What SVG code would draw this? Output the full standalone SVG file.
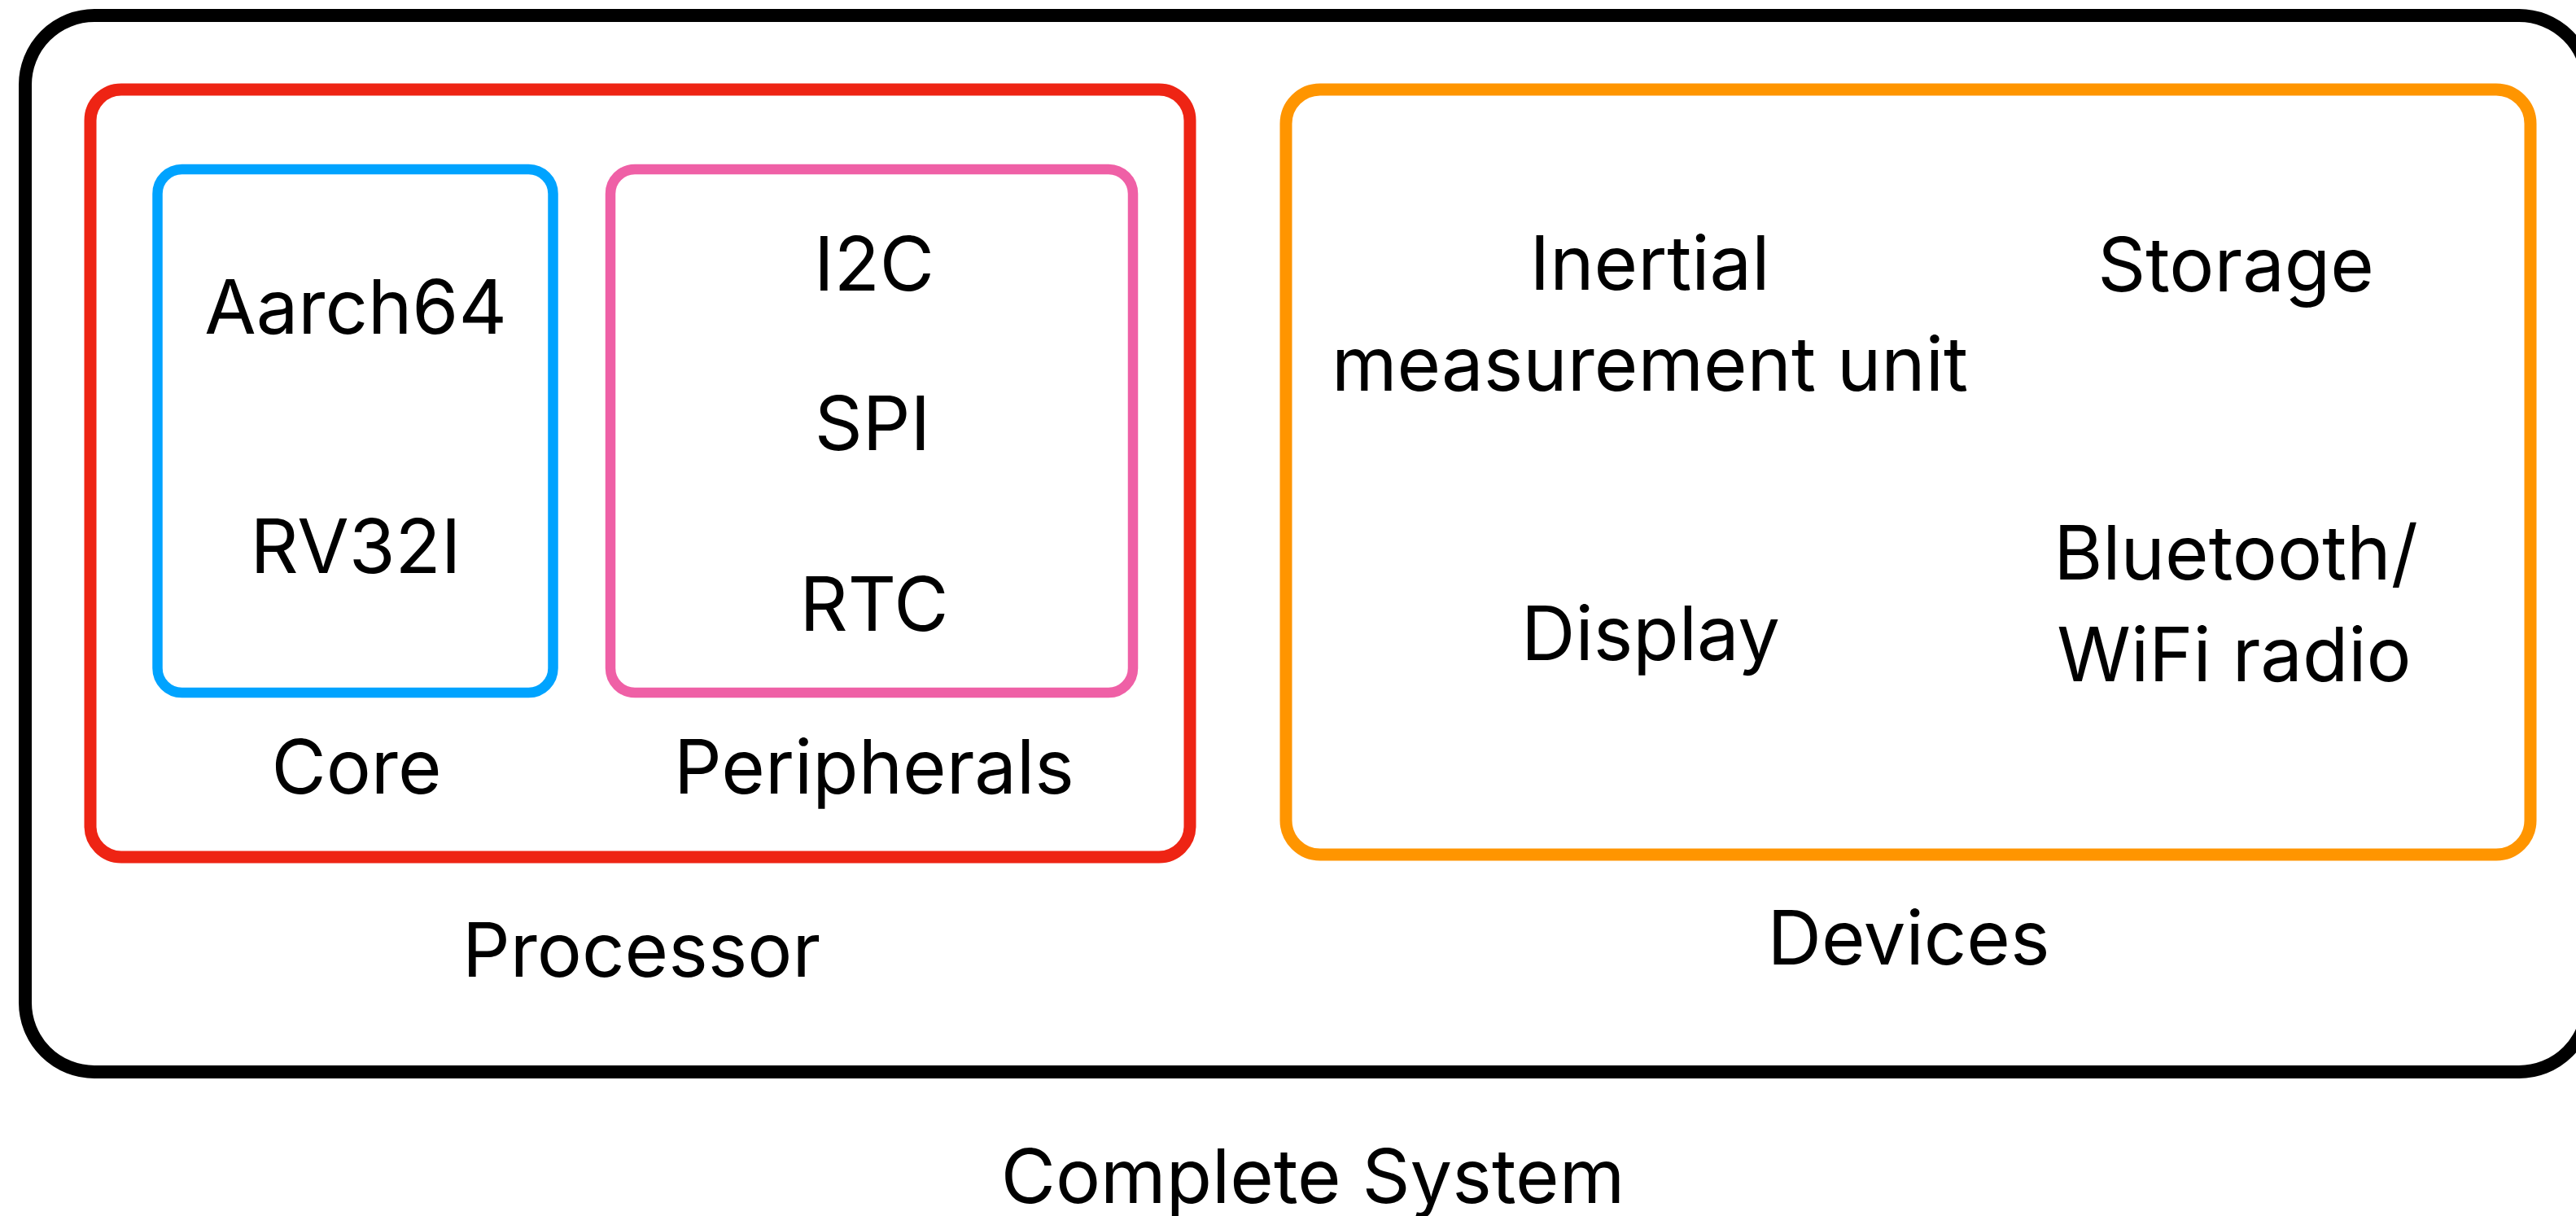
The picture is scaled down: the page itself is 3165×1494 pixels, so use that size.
<svg xmlns="http://www.w3.org/2000/svg" width="3165" height="1494" viewBox="0 0 3165 1494">
  <style>
    .box { fill: none; }
    .sys { stroke: #000000; stroke-width: 16; }
    .proc { stroke: #EE2414; stroke-width: 15; }
    .dev { stroke: #FF9500; stroke-width: 15; }
    .core { stroke: #00A3FF; stroke-width: 12.5; }
    .peri { stroke: #EF60A6; stroke-width: 12.5; }
    text { font-family: Inter, "Liberation Sans", Arial, sans-serif; font-size: 92px; fill: #000000; text-anchor: middle; }
  </style>
  <rect width="3165" height="1494" fill="#ffffff"/>

  <g id="complete-system">
    <rect class="box sys" x="31" y="19" width="3149" height="1298" rx="85" ry="85"/>
    <text x="1613" y="1478">Complete System</text>
  </g>

  <g id="processor">
    <rect class="box proc" x="111" y="110" width="1351" height="943" rx="38" ry="38"/>
    <text x="788" y="1200">Processor</text>
  </g>

  <g id="core">
    <rect class="box core" x="193.5" y="208" width="486" height="643" rx="30" ry="30"/>
    <text x="437" y="410">Aarch64</text>
    <text x="437" y="704">RV32I</text>
    <text x="438" y="975">Core</text>
  </g>

  <g id="peripherals">
    <rect class="box peri" x="750" y="208" width="642" height="643" rx="30" ry="30"/>
    <text x="1074" y="357">I2C</text>
    <text x="1072" y="553">SPI</text>
    <text x="1074" y="775">RTC</text>
    <text x="1074" y="975">Peripherals</text>
  </g>

  <g id="devices">
    <rect class="box dev" x="1580" y="110" width="1529" height="940" rx="42" ry="42"/>
    <text x="2027" y="356">Inertial</text>
    <text x="2027" y="480">measurement unit</text>
    <text x="2747" y="358">Storage</text>
    <text x="2028" y="811">Display</text>
    <text x="2747" y="712">Bluetooth/</text>
    <text x="2745" y="837">WiFi radio</text>
    <text x="2345" y="1185">Devices</text>
  </g>

  <g id="connectors"></g>
</svg>
